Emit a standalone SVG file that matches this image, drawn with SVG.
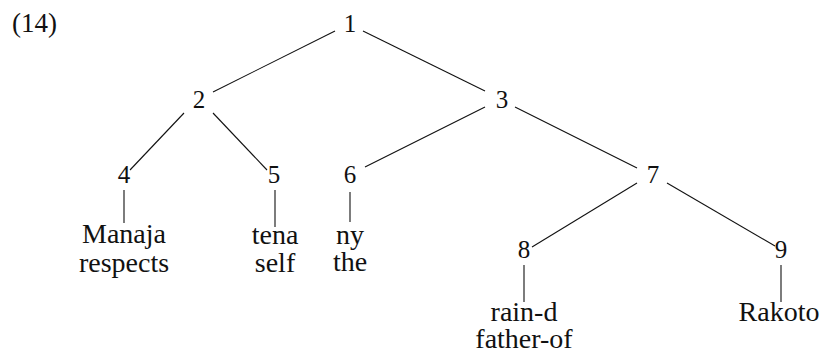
<svg xmlns="http://www.w3.org/2000/svg" width="823" height="352" viewBox="0 0 823 352">
<style>
text{font-family:"Liberation Serif","Times New Roman",serif;fill:#111;text-anchor:middle}
.n{font-size:25px}
.w{font-size:28px}
.lbl{font-size:27px;text-anchor:start}
#edges line{stroke:#111;stroke-width:1.1}
</style>
<rect width="823" height="352" fill="#fff"/>
<text class="lbl" x="12" y="32">(14)</text>
<g id="edges">
<line x1="335" y1="31" x2="213" y2="92"/>
<line x1="363" y1="31" x2="485" y2="91"/>
<line x1="184" y1="113" x2="130" y2="170"/>
<line x1="213" y1="113" x2="267" y2="170"/>
<line x1="485" y1="107" x2="365" y2="167"/>
<line x1="515" y1="107" x2="637" y2="168"/>
<line x1="124" y1="190" x2="124" y2="223"/>
<line x1="275" y1="190" x2="275" y2="227"/>
<line x1="350" y1="192" x2="350" y2="222"/>
<line x1="637" y1="183" x2="532" y2="247"/>
<line x1="667" y1="183" x2="775" y2="246"/>
<line x1="524" y1="265" x2="524" y2="302"/>
<line x1="781" y1="265" x2="781" y2="302"/>
</g>
<g id="n1"><text class="n" x="350" y="32">1</text></g>
<g id="n2"><text class="n" x="199" y="108">2</text></g>
<g id="n3"><text class="n" x="502" y="108">3</text></g>
<g id="n4"><text class="n" x="124" y="183">4</text></g>
<g id="n5"><text class="n" x="274" y="183">5</text></g>
<g id="n6"><text class="n" x="350" y="183">6</text></g>
<g id="n7"><text class="n" x="653" y="183">7</text></g>
<g id="n8"><text class="n" x="524" y="258">8</text></g>
<g id="n9"><text class="n" x="781" y="258">9</text></g>
<g id="leaf4"><text class="w" x="124" y="243">Manaja</text><text class="w" x="124" y="272">respects</text></g>
<g id="leaf5"><text class="w" x="275" y="244">tena</text><text class="w" x="275" y="272">self</text></g>
<g id="leaf6"><text class="w" x="350" y="244">ny</text><text class="w" x="350" y="271">the</text></g>
<g id="leaf8"><text class="w" x="524" y="321">rain-d</text><text class="w" x="524" y="348">father-of</text></g>
<g id="leaf9"><text class="w" x="779" y="321">Rakoto</text></g>
</svg>
